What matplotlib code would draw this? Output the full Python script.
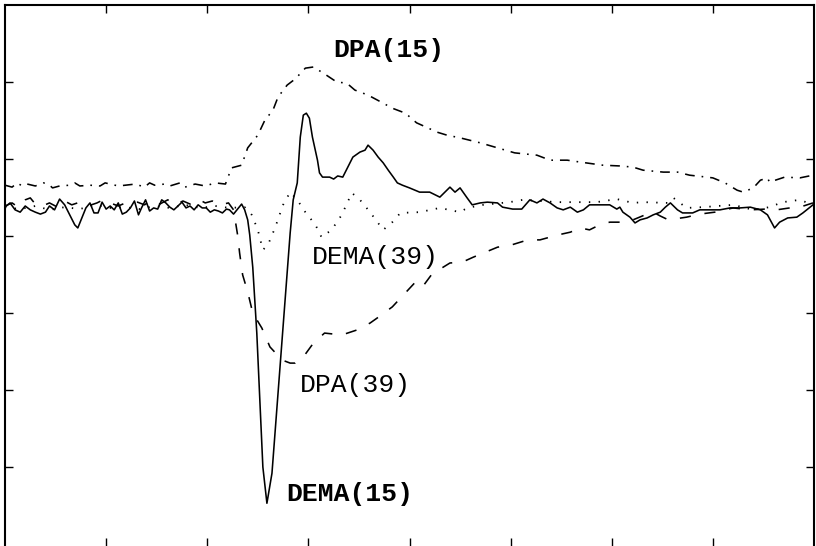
import matplotlib
matplotlib.use("Agg")
import matplotlib.pyplot as plt

# time (ms) and amplitude (uV)
dema15_t = [-200, -195, -190, -185, -180, -175, -170, -165, -160, -156, -151, -146, -141, -136, -131, -128,
            -124, -120, -116, -112, -108, -104, -100, -96, -92, -88, -84, -80, -76, -72, -68, -65, -61, -57,
            -53, -49, -45, -41, -37, -33, -29, -25, -21, -17, -13, -9, -5, -1, 3, 7, 11, 15, 19, 22, 26, 30,
            34, 37, 40, 42, 45, 49, 52, 55, 59, 64, 68, 72, 77, 82, 85, 89, 92, 95, 98, 101, 104, 109, 111,
            114, 121, 125, 129, 134, 139, 144, 151, 156, 159, 164, 169, 174, 179, 184, 188, 193, 200, 210,
            220, 230, 237, 240, 245, 250, 257, 262, 270, 277, 287, 292, 302, 311, 319, 326, 332, 339, 346,
            352, 359, 366, 372, 378, 388, 398, 405, 408, 411, 418, 423, 428, 435, 441, 448, 453, 458, 465,
            470, 480, 487, 497, 507, 517, 527, 537, 547, 554, 561, 566, 574, 583, 589, 599]
dema15_v = [0.75, 0.86, 0.68, 0.62, 0.78, 0.68, 0.62, 0.57, 0.62, 0.78, 0.68, 0.96, 0.81, 0.55, 0.29, 0.21,
            0.47, 0.73, 0.86, 0.60, 0.60, 0.88, 0.70, 0.78, 0.68, 0.86, 0.57, 0.62, 0.73, 0.91, 0.55, 0.73,
            0.94, 0.65, 0.73, 0.70, 0.94, 0.86, 0.75, 0.68, 0.78, 0.88, 0.73, 0.78, 0.68, 0.81, 0.73, 0.73,
            0.62, 0.68, 0.65, 0.60, 0.70, 0.68, 0.57, 0.70, 0.83, 0.68, 0.42, 0.03, -0.81, -2.52, -4.26,
            -6.00, -6.94, -6.16, -4.78, -3.40, -1.66, 0.08, 0.94, 1.38, 2.57, 3.14, 3.19, 3.06, 2.57, 1.97,
            1.64, 1.53, 1.53, 1.48, 1.56, 1.53, 1.79, 2.05, 2.18, 2.23, 2.36, 2.23, 2.05, 1.90, 1.71, 1.53,
            1.38, 1.32, 1.25, 1.14, 1.14, 1.01, 1.19, 1.27, 1.14, 1.25, 0.99, 0.81, 0.86, 0.88, 0.86, 0.75,
            0.70, 0.70, 0.94, 0.86, 0.96, 0.86, 0.73, 0.68, 0.75, 0.62, 0.68, 0.81, 0.81, 0.81, 0.70, 0.75,
            0.62, 0.49, 0.34, 0.42, 0.47, 0.55, 0.62, 0.75, 0.86, 0.68, 0.60, 0.60, 0.68, 0.68, 0.68, 0.73,
            0.73, 0.75, 0.68, 0.55, 0.21, 0.36, 0.47, 0.49, 0.60, 0.81]

dpa15_t = [-200, -193, -188, -183, -178, -170, -162, -157, -153, -146, -136, -131, -126, -116, -106, -101,
           -96, -88, -81, -71, -62, -57, -52, -42, -37, -27, -22, -12, -2, 8, 18, 24, 34, 40, 50, 57, 65,
           70, 79, 87, 97, 105, 116, 128, 138, 146, 159, 174, 183, 196, 207, 218, 227, 237, 250, 270, 287,
           304, 326, 339, 356, 369, 391, 408, 421, 431, 451, 465, 477, 494, 500, 512, 524, 530, 540, 547,
           554, 556, 571, 586, 599]
dpa15_v = [1.32, 1.27, 1.38, 1.30, 1.35, 1.30, 1.38, 1.35, 1.25, 1.30, 1.32, 1.38, 1.30, 1.32, 1.30, 1.38,
           1.35, 1.30, 1.32, 1.35, 1.27, 1.38, 1.32, 1.35, 1.30, 1.38, 1.27, 1.35, 1.30, 1.38, 1.35, 1.77,
           1.84, 2.29, 2.62, 3.01, 3.27, 3.61, 3.92, 4.08, 4.36, 4.39, 4.21, 4.00, 3.97, 3.79, 3.66, 3.45,
           3.32, 3.19, 2.94, 2.81, 2.70, 2.62, 2.55, 2.42, 2.29, 2.16, 2.10, 1.97, 1.97, 1.92, 1.84, 1.82,
           1.79, 1.71, 1.66, 1.66, 1.58, 1.53, 1.51, 1.38, 1.19, 1.14, 1.25, 1.45, 1.51, 1.40, 1.53, 1.51,
           1.58]

dema39_t = [-200, -185, -170, -156, -141, -126, -111, -96, -81, -67, -52, -37, -22, -7, 8, 22, 37, 44, 50,
            55, 60, 67, 75, 82, 89, 97, 107, 113, 123, 133, 143, 151, 161, 174, 183, 191, 210, 230, 250,
            257, 273, 299, 312, 346, 385, 405, 421, 431, 455, 461, 474, 490, 520, 540, 556, 569, 586, 599]
dema39_v = [0.75, 0.70, 0.78, 0.68, 0.75, 0.70, 0.81, 0.73, 0.75, 0.70, 0.78, 0.73, 0.81, 0.73, 0.78, 0.73,
            0.75, 0.55, 0.16, -0.36, -0.23, 0.21, 0.81, 1.14, 0.94, 0.62, 0.29, -0.03, 0.16, 0.55, 1.12,
            0.94, 0.62, 0.16, 0.36, 0.60, 0.62, 0.73, 0.62, 0.73, 0.81, 0.88, 0.94, 0.88, 0.88, 0.96, 0.86,
            0.88, 0.86, 0.99, 0.73, 0.75, 0.81, 0.68, 0.75, 0.88, 0.94, 0.81]

dpa39_t = [-200, -193, -187, -180, -175, -170, -163, -156, -148, -141, -134, -126, -118, -109, -103, -96,
           -88, -79, -69, -62, -55, -47, -39, -32, -24, -17, -9, -2, 5, 13, 21, 26, 30, 32, 35, 40, 45, 54,
           62, 74, 82, 87, 95, 105, 116, 133, 148, 161, 168, 183, 194, 205, 212, 223, 232, 240, 252, 263,
           275, 287, 301, 317, 329, 347, 359, 369, 378, 388, 398, 410, 421, 433, 441, 448, 456, 474, 487,
           502, 520, 537, 552, 563, 576, 586, 599]
dpa39_v = [0.78, 0.86, 0.75, 0.94, 0.99, 0.83, 0.78, 0.86, 0.75, 0.91, 0.81, 0.88, 0.78, 0.86, 0.94, 0.86,
           0.78, 0.88, 0.88, 0.81, 0.94, 0.83, 0.94, 0.81, 0.91, 0.83, 0.96, 0.86, 0.91, 0.81, 0.86, 0.68,
           0.03, -0.44, -1.01, -1.45, -2.00, -2.39, -2.88, -3.22, -3.30, -3.30, -3.14, -2.78, -2.52, -2.57,
           -2.44, -2.26, -2.13, -1.84, -1.53, -1.22, -1.35, -0.96, -0.83, -0.70, -0.68, -0.55, -0.42, -0.29,
           -0.23, -0.10, -0.10, 0.03, 0.10, 0.21, 0.16, 0.29, 0.36, 0.36, 0.42, 0.55, 0.62, 0.52, 0.42, 0.49,
           0.57, 0.62, 0.73, 0.68, 0.70, 0.68, 0.73, 0.75, 0.86]

labels = ["DPA(15)", "DEMA(39)", "DPA(39)", "DEMA(15)"]
label_t = [125, 103, 92, 78]
label_v = [4.83, -0.55, -3.87, -6.70]
label_bold = [True, False, False, True]

plt.rcParams["lines.scale_dashes"] = False

fig = plt.figure(figsize=(8.16, 5.46), dpi=100)
ax = fig.add_axes([5 / 816, 0, 809 / 816, 541 / 546])

ax.plot(dema15_t, dema15_v, color="black", lw=1.15, ls="-")
ax.plot(dpa15_t, dpa15_v, color="black", lw=1.15, ls=(0, (7, 5, 1.2, 5)))
ax.plot(dema39_t, dema39_v, color="black", lw=1.3, ls=(0, (1.0, 6)))
ax.plot(dpa39_t, dpa39_v, color="black", lw=1.15, ls=(0, (8, 10)))

for txt, t, v, b in zip(labels, label_t, label_v, label_bold):
    ax.text(t, v, txt, family="Liberation Mono", fontsize=19,
            fontweight="bold" if b else "normal", ha="left", va="center")

ax.set_xlim(-200, 600)
ax.set_ylim(-8.05, 6.0)
ax.set_xticks(range(-100, 600, 100))
ax.set_yticks([-6, -4, -2, 0, 2, 4])
ax.tick_params(direction="in", length=6, width=1, top=True, right=True,
               labelbottom=False, labelleft=False)
for side in ["left", "right", "top"]:
    ax.spines[side].set_linewidth(1.5)
ax.spines["bottom"].set_visible(False)

fig.savefig("out.png", dpi=100)
